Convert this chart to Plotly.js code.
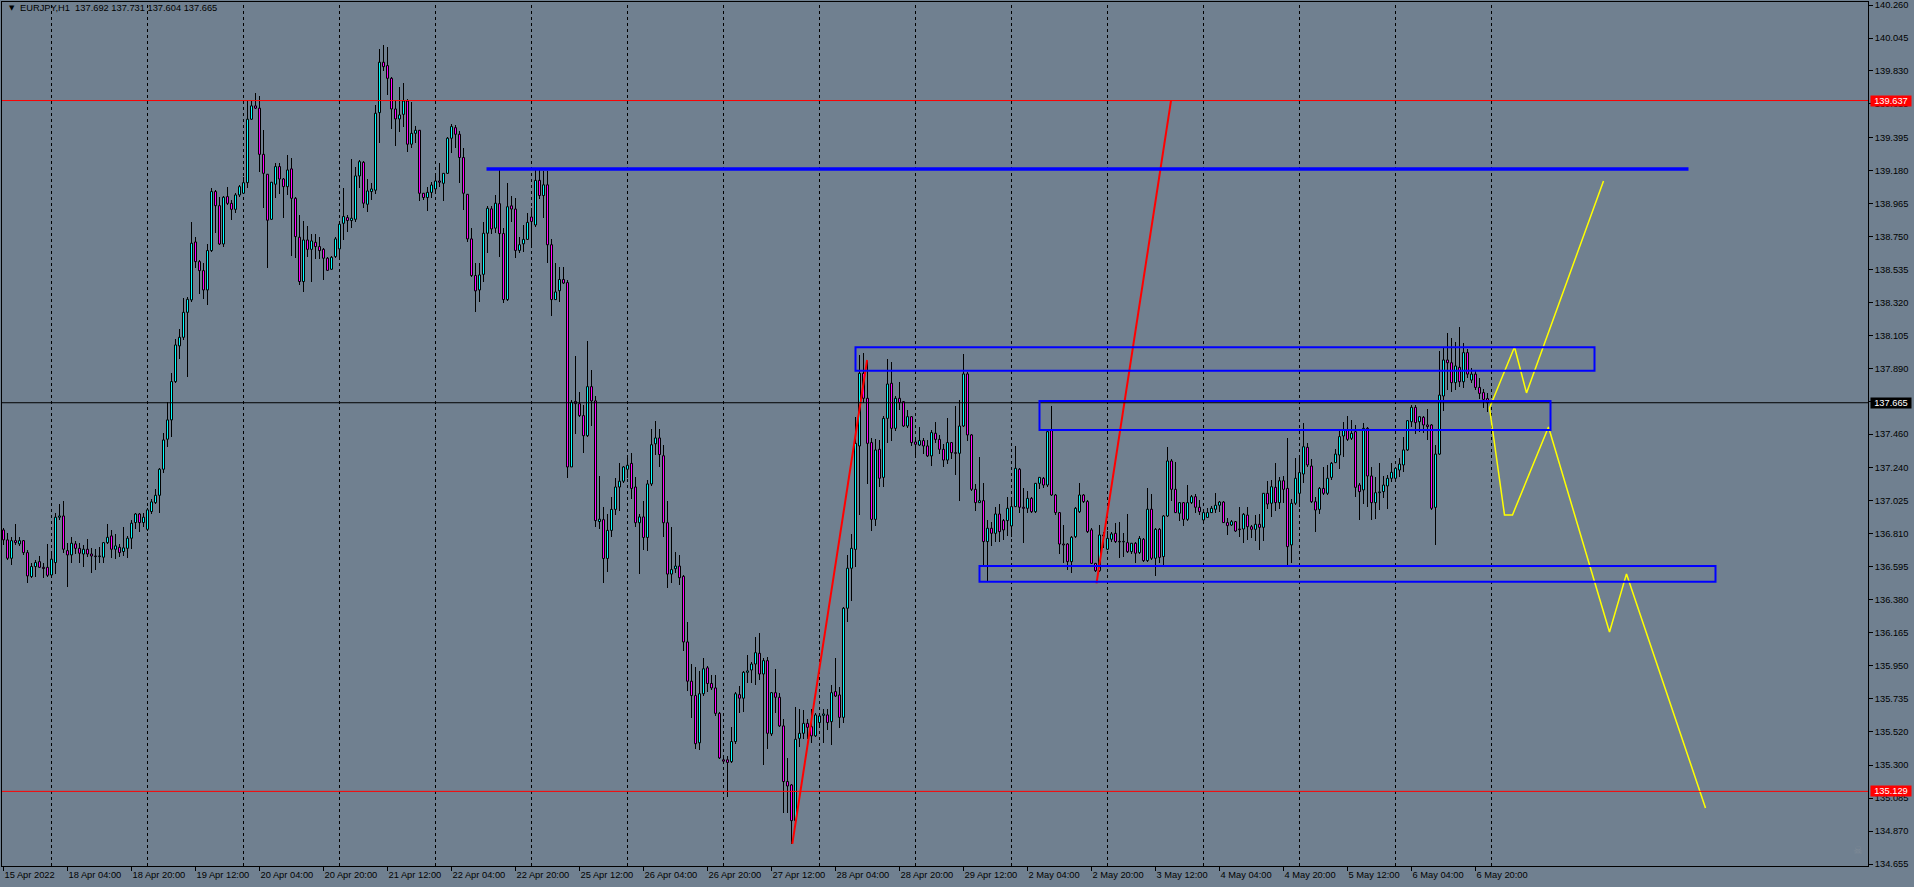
<!DOCTYPE html>
<html><head><meta charset="utf-8">
<script src="https://cdn.plot.ly/plotly-3.0.1.min.js"></script>
<style>html,body{margin:0;padding:0;background:#708090;overflow:hidden}#chart{width:1914px;height:887px}</style>
</head><body><div id="chart"></div>
<script>
const symbol = "EURJPY,H1";
const firstBarUTC = [2022, 3, 15, 12];

const open = [
136.835,136.770,136.650,136.765,136.744,136.765,136.687,136.531,136.596,136.628,
136.591,136.591,136.541,136.622,136.918,136.926,136.700,136.672,136.744,136.715,
136.678,136.709,136.678,136.665,136.661,136.657,136.752,136.796,136.709,136.722,
136.694,136.715,136.781,136.883,136.939,136.883,136.839,136.955,137.013,137.061,
137.231,137.427,137.553,137.803,138.036,138.092,138.255,138.336,138.714,138.586,
138.527,138.401,138.658,139.043,138.951,138.701,139.010,138.966,138.927,139.021,
139.032,139.101,139.515,139.602,139.587,139.286,139.156,138.862,139.091,139.206,
139.125,139.075,139.191,138.999,138.745,138.456,138.727,138.666,138.712,138.684,
138.666,138.608,138.536,138.619,138.669,138.836,138.873,138.854,138.862,139.145,
139.234,138.960,139.043,139.052,139.558,139.887,139.865,139.782,139.582,139.517,
139.547,139.634,139.352,139.423,139.443,139.032,139.004,139.038,139.060,139.112,
139.097,139.162,139.391,139.460,139.417,139.265,139.025,138.734,138.495,138.401,
138.503,138.771,138.930,138.804,138.964,138.769,138.338,138.950,138.929,138.659,
138.702,138.731,138.877,138.825,139.116,139.017,139.087,138.696,138.338,138.396,
138.469,138.449,137.246,137.674,137.659,137.581,137.450,137.770,137.677,136.890,
136.902,136.649,136.832,136.969,137.115,137.153,137.231,137.269,137.115,136.882,
136.920,136.786,137.135,137.397,137.435,137.319,136.882,136.547,136.582,136.599,
136.532,136.104,135.848,135.754,135.446,135.766,135.935,135.833,135.804,135.638,
135.335,135.335,135.323,135.454,135.760,135.737,135.906,135.921,135.960,136.030,
135.895,135.982,135.504,135.773,135.743,135.556,135.193,135.171,134.938,135.475,
135.508,135.573,135.551,135.491,135.578,135.625,135.628,135.584,135.780,135.758,
135.612,136.324,136.585,136.708,137.383,137.857,137.694,137.405,136.904,137.361,
137.178,137.563,137.792,137.498,137.694,137.672,137.513,137.574,137.409,137.389,
137.418,137.383,137.318,137.466,137.426,137.361,137.291,137.405,137.339,137.335,
137.513,137.853,137.455,137.100,137.013,137.026,136.759,136.846,136.813,136.939,
136.896,136.896,136.861,136.987,137.231,136.983,136.976,137.041,136.954,137.139,
137.172,137.128,137.483,137.063,136.948,136.743,136.743,136.628,136.791,136.954,
137.063,137.020,136.835,136.617,136.569,136.802,136.709,136.774,136.813,136.759,
136.757,136.752,136.693,136.748,136.687,136.774,136.635,136.970,136.650,136.839,
136.661,136.926,137.285,137.100,136.944,137.013,136.904,137.013,137.052,136.983,
136.900,136.917,136.948,136.970,136.996,137.017,136.883,136.867,136.889,136.841,
136.841,136.932,136.856,136.839,136.872,136.852,137.074,137.009,137.113,137.013,
137.156,137.106,136.737,137.009,137.074,137.200,137.374,137.252,137.019,136.969,
137.106,137.074,137.178,137.274,137.324,137.448,137.487,137.433,137.476,137.128,
137.096,137.498,137.187,137.013,137.078,137.085,137.122,137.172,137.172,137.226,
137.259,137.357,137.541,137.635,137.541,137.570,137.520,137.520,136.982,137.330,
137.709,137.944,137.926,137.796,137.896,137.802,137.992,137.813,137.852,137.765,
137.731,137.692];

const high = [
136.846,136.813,136.791,136.874,136.791,136.770,136.705,136.617,136.639,136.665,
136.622,136.744,136.678,136.948,137.005,137.026,136.752,136.791,136.765,136.752,
136.737,136.774,136.715,136.709,136.722,136.759,136.874,136.835,136.809,136.744,
136.852,136.796,136.900,136.944,136.944,136.948,136.976,137.035,137.100,137.237,
137.466,137.672,137.857,138.079,138.144,138.347,138.353,138.843,138.749,138.597,
138.575,138.701,139.064,139.053,139.006,139.014,139.075,138.988,139.032,139.086,
139.136,139.641,139.634,139.684,139.667,139.445,139.156,139.104,139.228,139.228,
139.130,139.282,139.260,139.010,138.891,138.851,138.821,138.764,138.764,138.749,
138.673,138.619,138.625,138.749,138.836,139.069,138.891,139.256,139.206,139.249,
139.243,139.125,139.097,139.608,139.974,140.000,139.989,139.793,139.641,139.728,
139.750,139.647,139.626,139.473,139.445,139.032,139.075,139.104,139.152,139.228,
139.162,139.402,139.482,139.478,139.439,139.330,139.025,138.808,138.575,138.575,
138.843,138.951,138.951,139.021,139.198,138.804,139.096,139.017,138.999,138.746,
138.825,138.906,138.935,139.183,139.183,139.174,139.174,138.731,138.580,138.551,
138.551,138.469,137.683,137.968,137.735,137.648,138.067,137.881,137.712,137.188,
136.984,136.940,137.048,137.173,137.275,137.252,137.304,137.339,137.182,136.940,
137.027,137.158,137.493,137.543,137.493,137.386,137.027,136.853,136.692,136.669,
136.541,136.232,135.958,135.941,135.912,135.999,135.950,135.891,135.891,135.650,
135.352,135.358,135.550,135.775,135.818,135.912,136.017,135.976,136.134,136.160,
135.997,136.004,135.780,135.926,135.769,135.599,135.345,135.177,135.678,135.665,
135.660,135.599,135.665,135.638,135.638,135.665,135.665,135.823,135.997,135.813,
136.334,136.672,136.809,137.570,137.977,137.992,137.940,137.433,137.426,137.422,
137.579,137.948,137.933,137.709,137.803,137.679,137.618,137.579,137.422,137.505,
137.433,137.422,137.487,137.542,137.455,137.396,137.563,137.411,137.644,137.683,
137.983,137.868,137.461,137.135,137.309,137.139,136.900,136.889,136.987,137.004,
136.904,137.048,137.052,137.383,137.237,137.107,137.091,137.052,137.144,137.183,
137.183,137.483,137.644,137.070,136.954,136.867,136.748,136.796,136.983,137.144,
137.070,137.031,136.846,136.622,136.867,136.824,136.830,136.824,136.883,136.889,
136.817,136.939,136.752,136.759,136.796,136.780,137.107,137.070,136.846,136.846,
136.933,137.374,137.296,137.281,137.020,137.020,137.128,137.063,137.070,137.031,
136.954,136.976,136.991,137.078,137.026,137.026,136.911,136.900,136.896,136.983,
136.944,136.987,136.867,136.932,136.939,137.078,137.156,137.161,137.274,137.183,
137.187,137.433,137.035,137.302,137.313,137.535,137.400,137.296,137.048,137.117,
137.248,137.259,137.280,137.361,137.487,137.541,137.578,137.552,137.520,137.139,
137.530,137.504,137.248,137.183,137.270,137.187,137.194,137.274,137.248,137.302,
137.444,137.552,137.650,137.650,137.578,137.578,137.622,137.526,137.389,138.005,
138.020,138.122,138.085,138.063,138.157,138.052,138.013,137.889,137.878,137.824,
137.752,137.731];

const low = [
136.737,136.639,136.607,136.737,136.728,136.672,136.487,136.520,136.526,136.585,
136.520,136.531,136.535,136.548,136.900,136.683,136.461,136.617,136.678,136.622,
136.591,136.661,136.552,136.574,136.617,136.622,136.744,136.650,136.644,136.661,
136.665,136.650,136.709,136.839,136.824,136.857,136.831,136.939,137.005,136.944,
137.205,137.374,137.444,137.792,137.949,138.075,137.836,138.321,138.542,138.375,
138.340,138.303,138.651,138.775,138.695,138.679,138.956,138.858,138.901,139.010,
139.027,139.064,139.510,139.582,139.173,138.934,138.543,138.860,138.999,139.025,
138.873,139.021,138.625,138.612,138.434,138.390,138.619,138.456,138.603,138.603,
138.466,138.525,138.532,138.612,138.612,138.727,138.782,138.808,138.843,139.069,
138.934,138.908,138.988,139.025,139.358,139.830,139.673,139.452,139.343,139.434,
139.467,139.304,139.326,139.358,138.982,138.988,138.917,138.999,139.032,139.075,
138.982,139.156,139.293,139.326,139.097,138.923,138.717,138.488,138.255,138.325,
138.455,138.640,138.764,138.771,138.615,138.318,138.329,138.842,138.609,138.644,
138.650,138.726,138.696,138.813,138.994,138.871,138.580,138.230,138.338,138.324,
138.440,137.173,137.246,137.464,137.572,137.339,137.444,137.514,136.853,136.838,
136.488,136.561,136.786,136.931,136.960,137.144,137.173,137.036,136.853,136.547,
136.707,136.698,137.123,137.327,137.246,136.786,136.459,136.488,136.553,136.474,
136.046,135.784,135.609,135.405,135.396,135.754,135.775,135.789,135.620,135.338,
135.318,135.090,135.317,135.440,135.638,135.649,135.833,135.834,135.823,135.856,
135.301,135.404,135.491,135.643,135.547,134.986,134.986,134.786,134.925,135.417,
135.469,135.469,135.447,135.486,135.541,135.447,135.530,135.432,135.747,135.541,
135.573,136.237,136.374,136.596,136.933,137.666,137.135,136.830,136.861,137.117,
137.117,137.405,137.418,137.483,137.618,137.505,137.498,137.383,137.324,137.383,
137.330,137.309,137.252,137.405,137.330,137.244,137.265,137.296,137.194,137.026,
137.505,137.418,137.091,136.961,137.009,136.596,136.504,136.730,136.759,136.759,
136.770,136.796,136.787,136.983,136.948,136.748,136.948,136.943,136.948,137.100,
137.107,137.113,137.057,136.933,136.678,136.617,136.574,136.552,136.780,136.943,
137.009,136.817,136.613,136.563,136.563,136.715,136.704,136.759,136.752,136.650,
136.661,136.683,136.678,136.622,136.678,136.628,136.628,136.639,136.535,136.617,
136.606,136.917,137.026,136.944,136.896,136.861,136.896,137.004,136.948,136.933,
136.896,136.911,136.943,136.943,136.954,136.878,136.802,136.861,136.824,136.787,
136.748,136.769,136.780,136.765,136.704,136.765,136.969,136.922,136.961,136.969,
137.009,136.595,136.617,136.998,136.987,137.143,137.248,137.013,136.824,136.939,
137.063,137.063,137.161,137.270,137.230,137.313,137.417,137.422,137.052,136.900,
137.004,136.987,136.900,136.904,136.965,137.041,136.969,137.150,137.161,137.183,
137.215,137.352,137.509,137.461,137.476,137.470,137.422,136.965,136.737,137.324,
137.613,137.748,137.737,137.748,137.765,137.759,137.824,137.796,137.748,137.687,
137.628,137.604];

const close = [
136.770,136.650,136.765,136.752,136.765,136.687,136.535,136.596,136.622,136.591,
136.583,136.539,136.644,136.918,136.926,136.709,136.672,136.748,136.715,136.683,
136.709,136.678,136.665,136.661,136.665,136.752,136.787,136.709,136.731,136.687,
136.718,136.781,136.879,136.939,136.883,136.918,136.966,137.018,137.061,137.231,
137.422,137.553,137.803,138.042,138.092,138.255,138.340,138.706,138.586,138.527,
138.401,138.658,139.043,138.951,138.701,139.006,138.966,138.927,139.021,139.075,
139.101,139.515,139.602,139.587,139.286,139.162,138.856,139.104,139.206,139.125,
139.075,139.184,138.999,138.749,138.456,138.727,138.666,138.721,138.684,138.658,
138.608,138.529,138.614,138.734,138.830,138.880,138.854,138.869,139.145,139.238,
138.967,139.047,139.060,139.554,139.887,139.858,139.782,139.582,139.517,139.543,
139.634,139.352,139.423,139.443,139.032,139.004,139.038,139.086,139.112,139.104,
139.162,139.391,139.467,139.417,139.265,139.032,138.734,138.495,138.395,138.499,
138.771,138.934,138.799,138.967,138.769,138.338,138.944,138.929,138.659,138.696,
138.731,138.842,138.848,139.116,139.017,139.087,138.696,138.338,138.388,138.469,
138.446,137.246,137.668,137.659,137.581,137.450,137.770,137.677,136.896,136.905,
136.649,136.832,136.969,137.115,137.153,137.246,137.257,137.106,136.882,136.920,
136.786,137.135,137.391,137.435,137.327,136.882,136.547,136.576,136.599,136.523,
136.104,135.848,135.754,135.440,135.766,135.929,135.833,135.804,135.638,135.347,
135.326,135.318,135.454,135.766,135.737,135.906,135.915,135.960,136.034,135.895,
135.982,135.508,135.773,135.743,135.556,135.193,135.164,134.938,135.469,135.508,
135.573,135.547,135.491,135.628,135.621,135.634,135.578,135.773,135.751,135.612,
136.324,136.585,136.715,137.400,137.857,137.694,137.400,136.904,137.357,137.172,
137.563,137.787,137.498,137.694,137.666,137.513,137.574,137.405,137.394,137.418,
137.383,137.318,137.470,137.426,137.361,137.291,137.405,137.339,137.335,137.513,
137.853,137.455,137.100,137.013,137.026,136.759,136.846,136.813,136.939,136.824,
136.835,136.976,136.987,137.237,136.983,136.976,137.041,136.954,137.139,137.178,
137.128,137.476,137.063,136.948,136.743,136.737,136.628,136.787,136.976,137.063,
137.020,136.824,136.617,136.569,136.802,136.796,136.780,136.809,136.759,136.757,
136.759,136.693,136.748,136.683,136.780,136.635,136.970,136.650,136.839,136.656,
136.926,137.285,137.100,136.948,137.013,136.904,137.013,137.052,136.983,136.954,
136.948,136.948,136.976,136.996,137.017,136.883,136.863,136.889,136.828,136.837,
136.937,136.856,136.839,136.872,136.852,137.074,137.004,137.117,137.013,137.156,
137.100,136.726,137.009,137.172,137.209,137.378,137.259,137.019,136.965,137.106,
137.074,137.172,137.270,137.330,137.444,137.487,137.426,137.465,137.113,137.085,
137.498,137.187,137.013,137.078,137.083,137.128,137.172,137.211,137.237,137.265,
137.357,137.548,137.635,137.535,137.574,137.520,137.509,136.976,137.330,137.715,
137.944,137.926,137.796,137.905,137.802,137.992,137.852,137.852,137.765,137.726,
137.687,137.665];

// price scale labels (as shown on the right axis)
const priceTicks = [140.260,140.045,139.830,139.615,139.395,139.180,138.965,138.750,138.535,
  138.320,138.105,137.890,137.675,137.460,137.240,137.025,136.810,136.595,136.380,136.165,
  135.950,135.735,135.520,135.300,135.085,134.870,134.655];

// drawn objects (bar index, price)
const redLevels = [139.637, 135.129];
const blueLineBars = [120.75, 421.25];
const blueLinePrice = 139.19;
const zoneStartBar = [213, 259, 244];
const zoneEndBar = [397.75, 386.75, 428];
const zoneTop = [138.027, 137.677, 136.600];
const zoneBottom = [137.874, 137.487, 136.497];
const trend1Bars = [197.2, 215.9];
const trend1Prices = [134.786, 137.944];
const trend2Bars = [273.25, 291.9];
const trend2Prices = [136.486, 139.640];
const upPathBars = [371.5, 377.75, 380.75, 400];
const upPathPrices = [137.631, 138.029, 137.729, 139.112];
const downPathBars = [371.5, 375.25, 377.25, 386.25, 401.5, 405.75, 425.5];
const downPathPrices = [137.631, 136.933, 136.933, 137.507, 136.169, 136.548, 135.021];

const MONTHS = ['Jan','Feb','Mar','Apr','May','Jun','Jul','Aug','Sep','Oct','Nov','Dec'];
const N = close.length;
const times = [];
let t = Date.UTC(firstBarUTC[0], firstBarUTC[1], firstBarUTC[2], firstBarUTC[3]);
while (times.length < N) {
  const d = new Date(t); const wd = d.getUTCDay();
  if (wd !== 0 && wd !== 6) times.push(d);
  t += 3600000;
}
const idx = close.map((_, i) => i);
const pad = n => String(n).padStart(2, '0');
const tickIdx = [], tickTxt = [];
for (let i = 0; i < N; i += 16) {
  const d = times[i];
  tickIdx.push(i);
  tickTxt.push(i === 0 ? `${d.getUTCDate()} ${MONTHS[d.getUTCMonth()]} ${d.getUTCFullYear()}`
                       : `${d.getUTCDate()} ${MONTHS[d.getUTCMonth()]} ${pad(d.getUTCHours())}:${pad(d.getUTCMinutes())}`);
}
const separators = idx.filter(i => times[i].getUTCHours() === 0);
if (times[N - 1].getUTCHours() === 23) separators.push(N);

// candle geometry (bars drawn through the axes)
const MIN_BODY = 0.0035;
const bodyBase = idx.map(i => Math.min(open[i], close[i]));
const bodySize = idx.map(i => Math.max(Math.abs(close[i] - open[i]), MIN_BODY));
const bodyColor = idx.map(i => close[i] >= open[i] ? '#00ffff' : '#ff00ff');
const wickSize = idx.map(i => high[i] - low[i]);

const FONT = 'Liberation Sans, Arial, sans-serif';
const shapes = [];
separators.forEach(s => shapes.push({type:'line', xref:'x', yref:'paper', x0:s, x1:s, y0:0, y1:1,
  line:{color:'#000', width:1, dash:'3px,3px'}, layer:'below'}));
redLevels.forEach(p => shapes.push({type:'line', xref:'paper', yref:'y', x0:0, x1:1, y0:p, y1:p,
  line:{color:'#ff0000', width:1}, layer:'above'}));
shapes.push({type:'line', xref:'paper', yref:'y', x0:0, x1:1, y0:close[N-1], y1:close[N-1],
  line:{color:'#000', width:1}, layer:'above'});
shapes.push({type:'line', xref:'x', yref:'y', x0:blueLineBars[0], x1:blueLineBars[1], y0:blueLinePrice, y1:blueLinePrice,
  line:{color:'#0000ff', width:3.5}, layer:'above'});
zoneStartBar.forEach((s, k) => shapes.push({type:'rect', xref:'x', yref:'y', x0:s, x1:zoneEndBar[k],
  y0:zoneBottom[k], y1:zoneTop[k], line:{color:'#0000ff', width:2}, fillcolor:'rgba(0,0,0,0)', layer:'above'}));

const tag = (p, bg) => ({xref:'paper', x:1, xanchor:'left', xshift:2, yref:'y', y:p, yanchor:'middle',
  text:p.toFixed(3), showarrow:false, bgcolor:bg, width:40, height:10, borderpad:0,
  font:{family:FONT, size:9.3, color:'#ffffff'}});
const last = N - 1;
const annotations = [
  {xref:'paper', yref:'paper', x:0.0025, y:0.9935, xanchor:'left', yanchor:'middle', text:'▼', showarrow:false,
   font:{family:'DejaVu Sans', size:7, color:'#000'}},
  {xref:'paper', yref:'paper', x:0.0085, y:0.9925, xanchor:'left', yanchor:'middle', showarrow:false,
   text:`${symbol}  ${open[last].toFixed(3)} ${high[last].toFixed(3)} ${low[last].toFixed(3)} ${close[last].toFixed(3)}`,
   font:{family:FONT, size:9.3, color:'#000'}},
  tag(redLevels[0], '#ff0000'), tag(redLevels[1], '#ff0000'), tag(close[last], '#000000'),
  {xref:'paper', yref:'paper', x:0.9945, y:0.018, xanchor:'center', yanchor:'middle', text:'☠', showarrow:false,
   font:{family:'DejaVu Sans', size:11, color:'#7f8a96'}}
];

const traces = [
  {type:'bar', x:idx, base:low, y:wickSize, width:0.25, marker:{color:'#000', line:{width:0}}, hoverinfo:'skip'},
  {type:'bar', x:idx, base:bodyBase, y:bodySize, width:0.5,
   marker:{color:bodyColor, line:{color:'#000', width:1}}, hoverinfo:'skip'},
  {type:'scatter', mode:'lines', x:trend1Bars, y:trend1Prices, line:{color:'#ff0000', width:2}, hoverinfo:'skip'},
  {type:'scatter', mode:'lines', x:trend2Bars, y:trend2Prices, line:{color:'#ff0000', width:2}, hoverinfo:'skip'},
  {type:'scatter', mode:'lines', x:upPathBars, y:upPathPrices, line:{color:'#ffff00', width:1.5}, hoverinfo:'skip'},
  {type:'scatter', mode:'lines', x:downPathBars, y:downPathPrices, line:{color:'#ffff00', width:1.5}, hoverinfo:'skip'}
];

const layout = {
  width:1914, height:887, margin:{l:2, r:46, t:2, b:21, pad:0},
  paper_bgcolor:'#708090', plot_bgcolor:'#708090', showlegend:false,
  barmode:'overlay', bargap:0, bargroupgap:0,
  xaxis:{type:'linear', range:[-0.375, 466.125], tickvals:tickIdx, ticktext:tickTxt, ticks:'outside', ticklen:4,
    tickcolor:'#000', tickwidth:1, showline:true, linecolor:'#000', linewidth:1, mirror:true,
    showgrid:false, zeroline:false, ticklabelposition:'outside right',
    tickfont:{family:FONT, size:9.3, color:'#000'}, fixedrange:true},
  yaxis:{side:'right', range:[134.642, 140.280], tickvals:priceTicks, ticktext:priceTicks.map(v => v.toFixed(3)),
    ticks:'outside', ticklen:4, tickcolor:'#000', tickwidth:1, showline:true, linecolor:'#000', linewidth:1,
    mirror:true, showgrid:false, zeroline:false, tickfont:{family:FONT, size:9.3, color:'#000'}, fixedrange:true},
  shapes, annotations
};
Plotly.newPlot('chart', traces, layout, {staticPlot:true, displayModeBar:false});
</script></body></html>
